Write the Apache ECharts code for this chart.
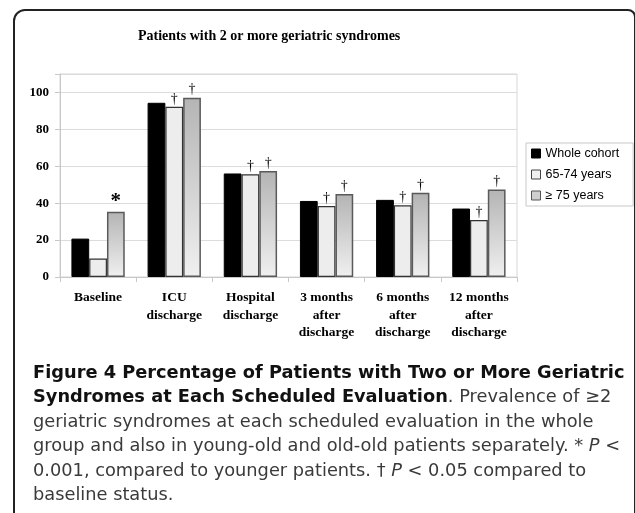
<!DOCTYPE html>
<html>
<head>
<meta charset="utf-8">
<script src="https://cdn.jsdelivr.net/npm/echarts@6/dist/echarts.min.js"></script>
<style>
html,body{margin:0;padding:0;background:#fff;}
#c{width:635px;height:513px;}
</style>
</head>
<body>
<div id="c"></div>
<script>
const categories = ['Baseline', 'ICU\ndischarge', 'Hospital\ndischarge', '3 months\nafter\ndischarge', '6 months\nafter\ndischarge', '12 months\nafter\ndischarge'];
const seriesNames = ['Whole cohort', '65-74 years', '\u2265 75 years'];
const wholeCohort = [20.8, 94.4, 56.1, 41.2, 41.8, 37.1];
const young = [10.0, 92.2, 55.7, 38.5, 38.9, 30.9];
const old = [35.3, 97.1, 57.5, 45.0, 45.6, 47.4];
const youngMarks = ['', '\u2020', '\u2020', '\u2020', '\u2020', '\u2020'];
const oldMarks = ['*', '\u2020', '\u2020', '\u2020', '\u2020', '\u2020'];
const yTicks = [0, 20, 40, 60, 80, 100];

const chart = echarts.init(document.getElementById('c'), null, {renderer: 'canvas'});
const serif = '"Liberation Serif", "Times New Roman", serif';
const capFont = '"DejaVu Sans", "Noto Sans", sans-serif';

function markLabel(marks) {
  return {
    show: true, position: 'top', distance: 1,
    formatter: p => {
      const m = marks[p.dataIndex];
      if (!m) return '';
      return m === '*' ? '{star|*}' : '{dag|' + m + '}';
    },
    rich: {
      dag: {fontFamily: serif, fontSize: 14, color: '#000'},
      star: {fontFamily: serif, fontSize: 21, fontWeight: 'bold', color: '#000', lineHeight: 16, padding: [0, 0, 3, 0]}
    }
  };
}

const capLines = [
  [{t: 'Figure 4 Percentage of Patients with Two or More Geriatric', s: 'b'}],
  [{t: 'Syndromes at Each Scheduled Evaluation', s: 'b'}, {t: '. Prevalence of \u22652', s: 'r'}],
  [{t: 'geriatric syndromes at each scheduled evaluation in the whole', s: 'r'}],
  [{t: 'group and also in young-old and old-old patients separately. * ', s: 'r'}, {t: 'P', s: 'i'}, {t: ' <', s: 'r'}],
  [{t: '0.001, compared to younger patients. \u2020 ', s: 'r'}, {t: 'P', s: 'i'}, {t: ' < 0.05 compared to', s: 'r'}],
  [{t: 'baseline status.', s: 'r'}]
];
const capTop = [364, 388.5, 413, 437.5, 462, 486.5];
const capSize = 17.8;
const rich = {
  b: {fontFamily: capFont, fontWeight: 'bold', fontSize: capSize, fill: '#111'},
  r: {fontFamily: capFont, fontWeight: 'normal', fontSize: capSize, fill: '#3a3a3a'},
  i: {fontFamily: capFont, fontWeight: 'normal', fontStyle: 'italic', fontSize: capSize, fill: '#3a3a3a'}
};
const capGraphics = capLines.map((parts, i) => ({
  type: 'text', left: 33, top: capTop[i], silent: true,
  style: {
    text: parts.map(p => '{' + p.s + '|' + p.t + '}').join(''),
    rich: rich, fill: '#333'
  }
}));

const option = {
  backgroundColor: '#fff',
  animation: false,
  title: {
    text: 'Patients with 2 or more geriatric syndromes',
    left: 133, top: 24,
    textStyle: {fontFamily: serif, fontWeight: 'bold', fontSize: 14, color: '#000'}
  },
  legend: {
    orient: 'vertical', left: 526, top: 143,
    padding: [4, 14, 4, 5],
    itemWidth: 9, itemHeight: 9, itemGap: 8,
    borderColor: '#c8c8c8', borderWidth: 1, borderRadius: 0,
    textStyle: {fontFamily: '"Liberation Sans", Arial, sans-serif', fontSize: 12.5, color: '#000'},
    data: [
      {name: seriesNames[0], icon: 'rect', itemStyle: {color: '#000', borderColor: '#000', borderWidth: 1}},
      {name: seriesNames[1], icon: 'rect', itemStyle: {color: '#efefef', borderColor: '#444', borderWidth: 1}},
      {name: seriesNames[2], icon: 'rect', itemStyle: {color: '#cfcfcf', borderColor: '#555', borderWidth: 1}}
    ]
  },
  grid: {left: 60, right: 118, top: 74, bottom: 236, show: true, borderColor: '#d6d6d6', borderWidth: 1, containLabel: false},
  xAxis: {
    type: 'category', data: categories,
    axisLine: {lineStyle: {color: '#c8c8c8'}},
    axisTick: {show: true, length: 5, lineStyle: {color: '#c8c8c8'}},
    axisLabel: {interval: 0, margin: 12, fontFamily: serif, fontWeight: 'bold', fontSize: 13.5, lineHeight: 17.5, color: '#000'}
  },
  yAxis: {
    type: 'value', min: 0, max: 110, interval: 20,
    axisLine: {show: true, lineStyle: {color: '#c8c8c8'}},
    axisTick: {show: true, length: 5, lineStyle: {color: '#c8c8c8'}},
    splitLine: {lineStyle: {color: '#dcdcdc'}},
    axisLabel: {
      margin: 11, fontFamily: serif, fontWeight: 'bold', fontSize: 13, color: '#000',
      formatter: v => (yTicks.indexOf(v) >= 0 ? String(v) : '')
    }
  },
  series: [
    {
      name: seriesNames[0], type: 'bar', data: wholeCohort,
      barGap: '0%', barCategoryGap: '30%',
      itemStyle: {color: '#000', borderColor: '#000', borderWidth: 1}
    },
    {
      name: seriesNames[1], type: 'bar', data: young,
      barGap: '0%', barCategoryGap: '30%',
      itemStyle: {color: '#ededed', borderColor: '#333', borderWidth: 1.2},
      label: markLabel(youngMarks)
    },
    {
      name: seriesNames[2], type: 'bar', data: old,
      barGap: '0%', barCategoryGap: '30%',
      itemStyle: {
        color: {type: 'linear', x: 0, y: 0, x2: 0, y2: 1, colorStops: [
          {offset: 0, color: '#b4b4b4'}, {offset: 1, color: '#f0f0f0'}
        ]},
        borderColor: '#5a5a5a', borderWidth: 1.5
      },
      label: markLabel(oldMarks)
    }
  ],
  graphic: [
    {
      type: 'rect', silent: true, z: -1,
      shape: {x: 14, y: 10, width: 621, height: 560, r: [11, 7, 0, 0]},
      style: {fill: null, stroke: '#222', lineWidth: 2}
    }
  ].concat(capGraphics)
};
chart.setOption(option);
</script>
</body>
</html>
